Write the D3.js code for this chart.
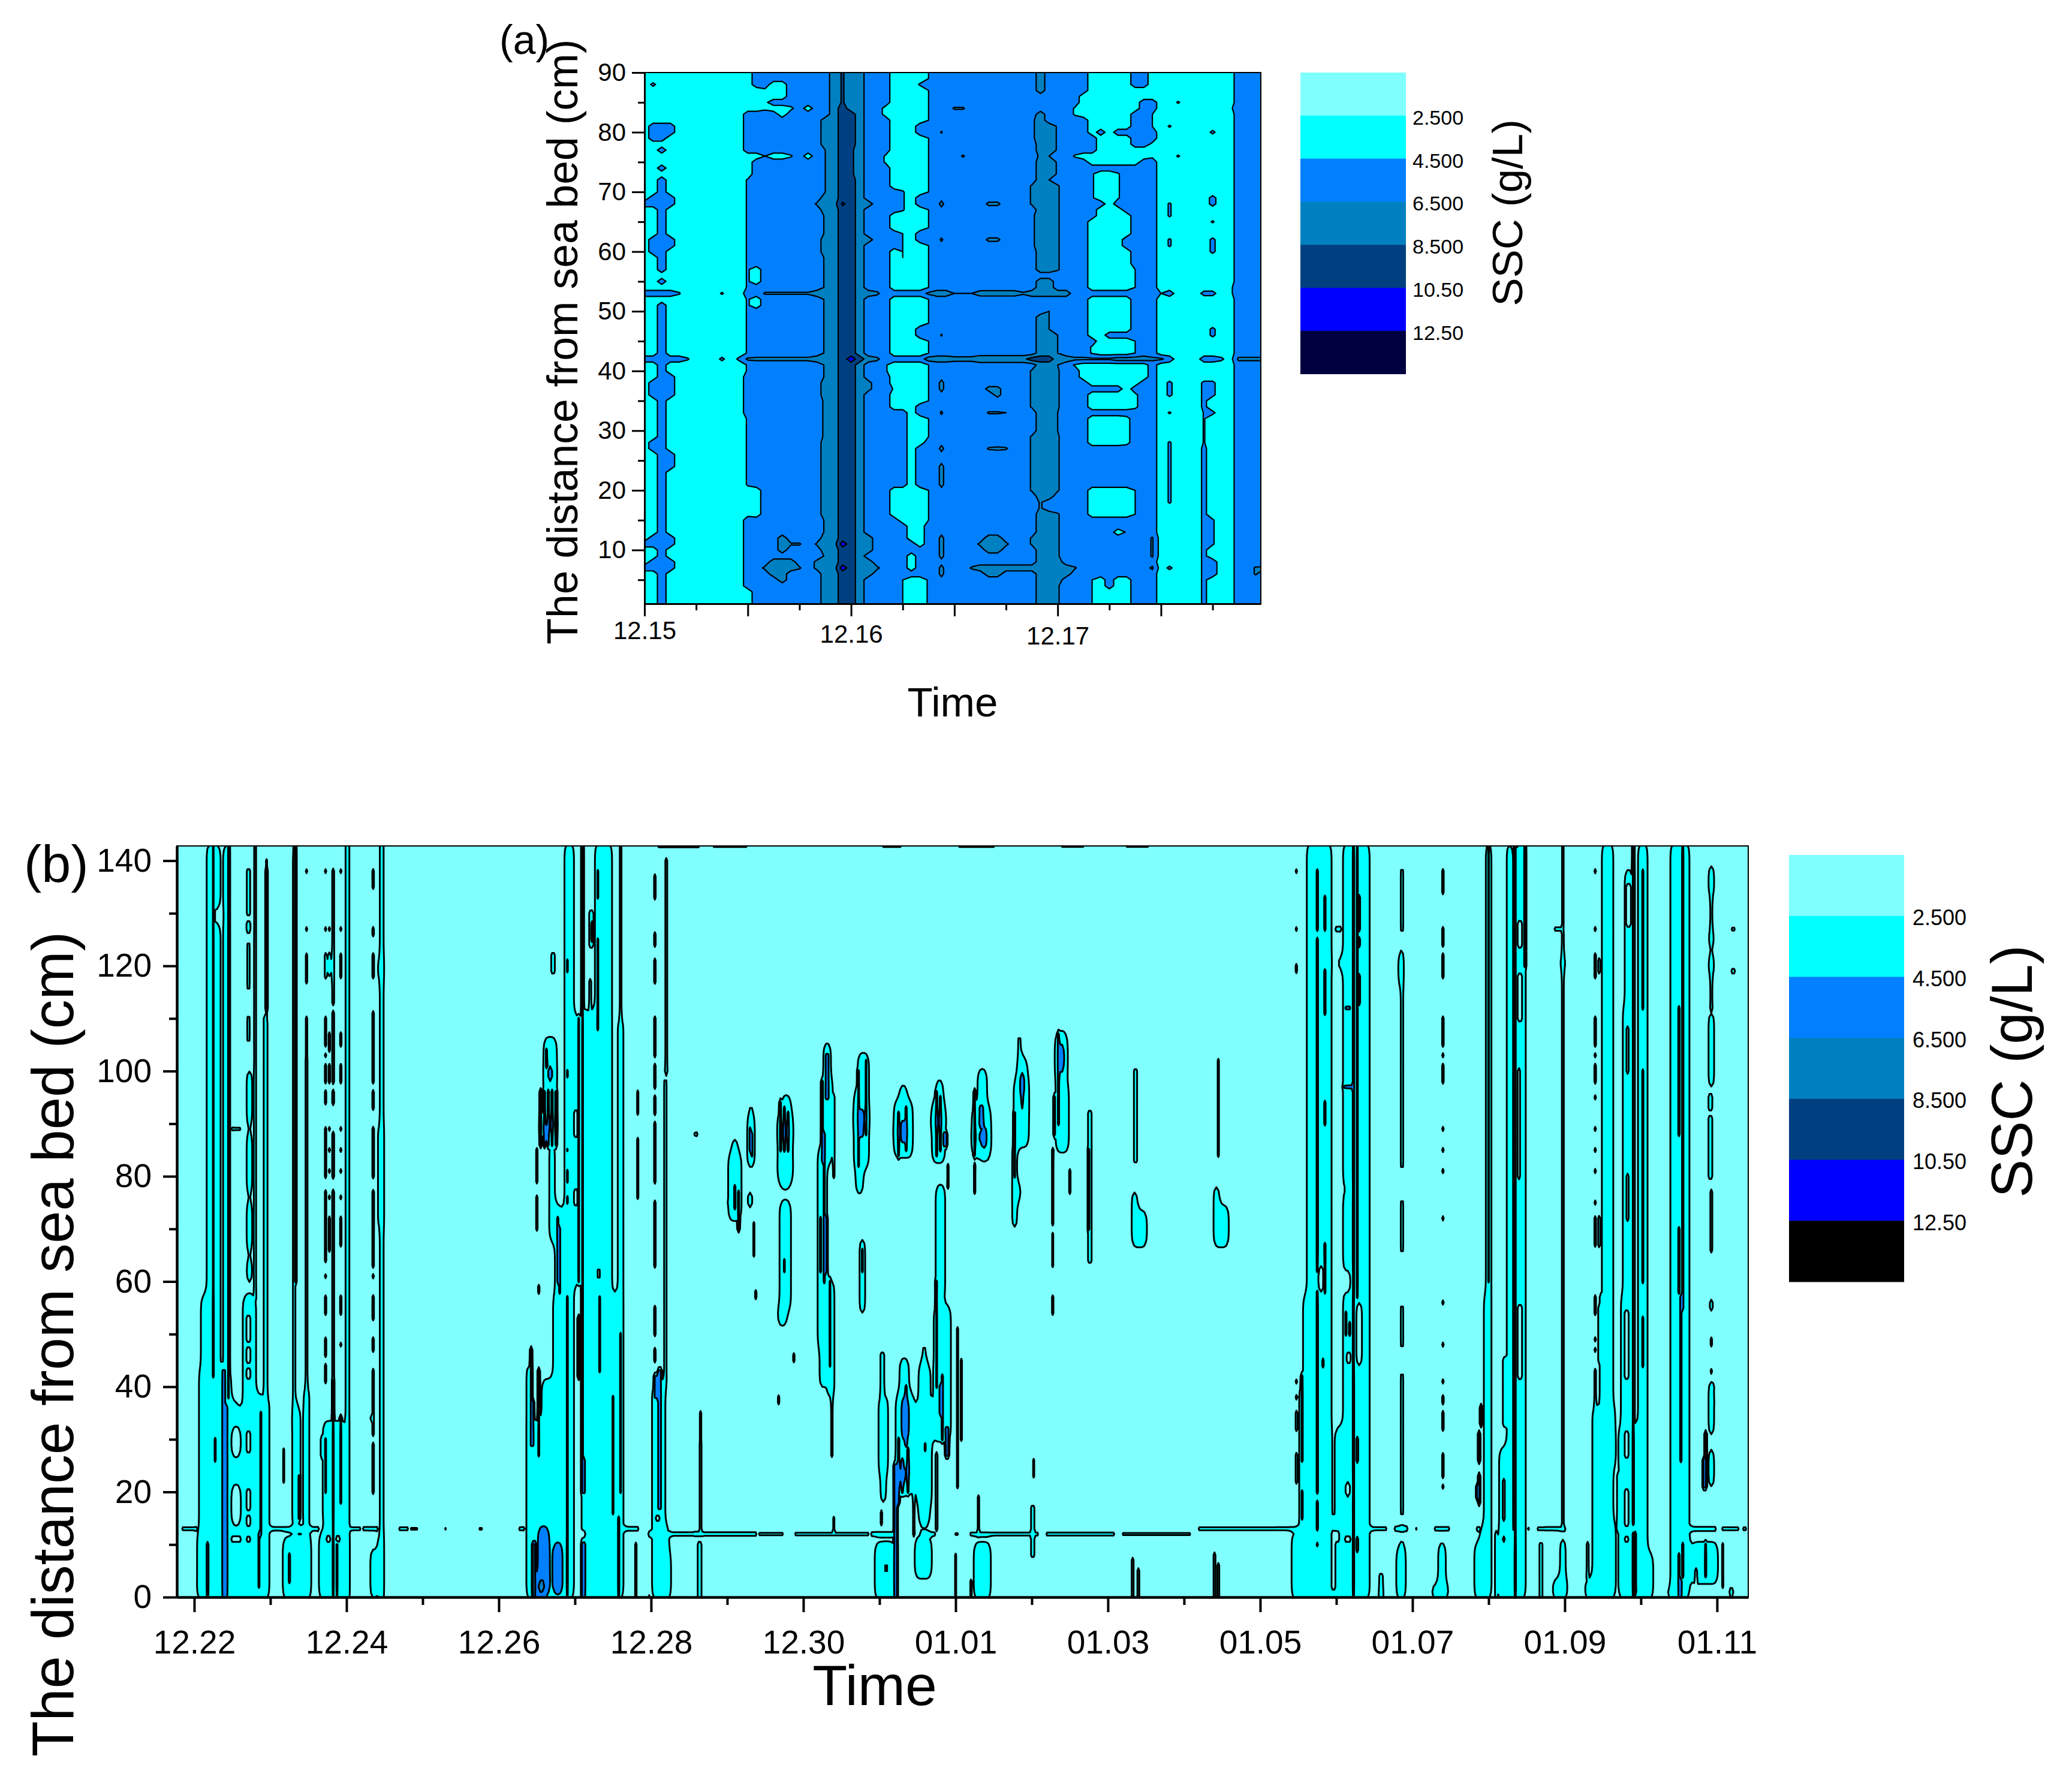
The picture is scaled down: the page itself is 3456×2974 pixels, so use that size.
<!DOCTYPE html>
<html lang="en">
<head>
<meta charset="UTF-8">
<title>SSC contours</title>
<script src="https://d3js.org/d3.v7.min.js"></script>
<style>
    body { margin: 0; background: #fff; }
    text { font-family: "Liberation Sans", Arial, sans-serif; fill: #000; }
</style>
</head>
<body>
<svg id="chart" width="3456" height="2974"></svg>
<script>
// SSC bands: 0 is below 2.5 g/L, 1 is 2.5-4.5, 2 is 4.5-6.5 ... 6 is above 12.5
// fractions sit just over a band edge, they give the thin slivers of the original
var sscLabels = ["2.500", "4.500", "6.500", "8.500", "10.50", "12.50"];
var colorsA = ["#80FFFF", "#00FFFF", "#0080FF", "#0080C0", "#004080", "#0000FF", "#000040"];
var colorsB = ["#80FFFF", "#00FFFF", "#0080FF", "#0080C0", "#004080", "#0000FF", "#000000"];

// panel (a): [hour after 12.15 00:00, band, top depth, band, top depth, ..., band]
var aProfiles = [
    [0, 1,6,2,7,1,10,2,11,1,67,2,68,1],
    [1, 1,6,2,8,1,10,2,12,1,26,2,28,1,35,2,38,1,59,2,62,1,67,2,69,1,78,2,81,1,87,1.7,88,1],
    [2, 2,51,1,54,2,55,1,56,2,72,1,73,2,74,1,76,2,77,1,78,2,81,1],
    [3, 1,6,2,8,1,10,2,12,1,23,2,26,1,35,2,39,1,60,2,62,1,67,2,69,1,79,2,81,1],
    [4, 1],[5, 1],[6, 1],[7, 1],[8, 1],[9, 1],[10, 1],[11, 1],
    [12, 1,3,2,15,1.2,20,1.6,32,2,39,1.6,57,1.6,72,1,76,2,83,1],
    [13, 2,15,1,20,2,50,1,52,2,54,1,57,2,75,1,76,2,83,1,87,2],
    [14, 2,6,2.7,7,2,75,1.5,76,2,83,1.3,87,2],
    [15, 2,5,3,8,2,75,1,76,2,83,1,84,2,85,1,88,2],
    [16, 2,4,3,8,2,9,3,12,2,75,1,76,2,82,1,84,2,85,1,88,2],
    [17, 2,6,3,8,2,10,2.6,11,2,75,1.4,76,2,83,1.3,84,2],
    [18, 2,6,2.6,7,2,10,2.6,11,2],
    [19, 2,75,1,76,2,83,1,84,2],
    [20, 2,6,2.7,8,2,10,2.6,11,2,67,2.6,68,2],
    [21, 3,8,2.6,9,3,12,2.6,15,3,28,2.7,35,3,38,2.6,59,3,62,2.6,66,3,69,2.5,77,3,82,2],
    [22, 3],
    [23, 4,6,5,7,4,10,5,11,4,67,4.7,68,4,84,3.6],
    [24, 4,72,3.7,77,4,83,3],
    [25, 3],
    [26, 2,5,3,8,2,9,3,12,2,36,2.8,38,2,61,3,62,2,67,3,68,2],
    [27, 2,6,2.7,7,2],
    [28, 2,39,1.6,41,2,74,1.4,76,2,82,1.2,84,2],
    [29, 2,15,1,20,2,33,1,36,1.4,37,1,60,2,63,1,66,2,70,1],
    [30, 1.5,5,2,14,1,20,2,33,1,58,1.5,63,1,66,1.6,70,1],
    [31, 1,5,2,6,1,9,2,11,1],
    [32, 1,5,2,10,1,20,2,27,1,32,2,34,1,45,2,47,1,61,2,63,1,67,2,69,1,79,2,81,1,87,1.6,88,1],
    [33, 1.6,5,2,14,1.5,20,2,28,1.5],
    [34, 2],
    [34.5, 2,5,3,7,2,8,3,12,2,20,3,24,2,26,3,27,2,32,2.7,33,2,36,3,38,2,45,2.6,46,2,61,2.7,62,2,67,3,68,2,79,2.6,80,2],
    [35, 2],
    [36, 2,83,2.6,84,2],
    [37, 2,75,2.6,76,2,83,2.6,84,2],
    [38, 2,6,2.6,7,2],
    [39, 2,6,3,7,2,10,2.7,11,2],
    [40, 2,5,3,7,2,9,3,12,2,26,2.6,27,2,32,2.6,33,2,36,2.8,37,2,61,2.7,62,2,67,2.7,68,2,79,2.5,80,2],
    [41, 2,5,3,7,2,9,3,12,2,26,2.7,27,2,32,2.6,33,2,35,2.8,37,2,61,2.7,62,2,67,2.7,68,2],
    [42, 2,6,3,7,2,10,2.7,11,2,26,2.6,27,2,32,2.5,33,2],
    [43, 2,6,3,7,2],
    [44, 2,6,3,7,2],
    [45, 2,6,3,7,2,10,2.6,12,2,19,2.6,29,2,33,2.6,40,2,60,2.3,66,2,67,2.6,71,2,78,2.3,82,2],
    [46, 3,16,2.6,18,3,49,2,52,3,55,2,56,3,75,2.7,76,3,83,2,86,3],
    [47, 3,16,2,18,3,46,2.5,50,2,52,3,55,2,56,3,71,2.5,72,3,75,2.5,76,3,81,2],
    [48, 2.6,4,3,8,2.6,16,2,19,2.6,29,2.5,33,2.6,40,2.5,46,2,56,2.6,71,2,72,2.4,81,2],
    [49, 2,5,3,7,2],
    [50, 2,6,2.6,7,2,40,1.4,41,2,75,1.4,76,2,82,1.4,84,2],
    [51, 2,38,1,41,2,75,1,76,2,82,1,86,2],
    [52, 1.5,5,2,15,1,20,2,23,1.5,24,2,27,1,32,2,33,1,36,2,37,1,41,2,42,1.4,44,2,45,1,52,2,53,1,65,2,67,1.6,73,2,74,1,76,2,79,1],
    [53, 1,5,2,15,1,20,2,23,1.6,24,2,27,1,32,2,33,1,36,2,37,1,67,2,68,1,73,2,74,1,79,2,80,1],
    [54, 1,3,2,15,1,20,2,27,1,32,2,33,1,36,2,37,1,45,2,46,1,68,1,73,2,74,1],
    [55, 1,5,2,12,1,13,2,15,1,20,2,23,1.6,24,2,27,1,32,2,33,1,36,2,37,1,45,2,46,1,67,2,68,1.4,73,2,74,1,79,2,80,1],
    [56, 1,5,2,6,1.6,9,2,12,1.6,13,2,15,1,20,2,23,1.6,24,2,27,1.2,32,2,33,1,45,2,46,1,60,2,62,1,66,2,74,1,79,2,80,1],
    [57, 2,15,1.5,20,2,33,1.3,36,2,37,1,41,2,42,1.5,45,2,53,1.5,57,2,74,1,77,2,83,1,87,2],
    [58, 2,38,1,41,2,75,1,77,2,85,1,87,2],
    [59, 2,6,2.7,7,2,8,2.6,12,2,75,1.3,78,2,80,1.5,83,2,85,1],
    [60, 1],
    [61, 1,6,1.7,7,1,17,1.6,28,1,32,1.6,33,1,35,1.7,38,1,60,1.6,62,1,65,1.6,68,1,80,1.6,81,1],
    [62, 1,75,1.6,76,1,84,1.6,85,1],
    [63, 1],[64, 1],
    [65, 1.7,27,1.55,33,1.7,38,1],
    [66, 1,5,2,8,1,10,1.6,15,1,32,1.7,33,1,35,1.7,38,1,45,1.7,47,1,59,1.7,62,1,64,1.6,65,1,67,1.8,69,1,79,1.7,80,1],
    [67, 1],
    [68, 1,52,1.3,54,1,83,1.3,84,1],
    [69, 2],[70, 2],
    [71, 2,5,2.6,7,2],
    [72, 2,6,2.6,7,2,10,2.7,12,2]
];
// the two thin layers that run across panel (a): [band, until hour, band, until hour, ..., band]
var aLayer42 = [2,4,1.6,5,1,8,1.7,9,1,10,1.7,11,2.7,19,3,22,4,23,5,24,4,25,3,26,2.7,27,2,32,3,35,2.8,38,3.2,44,4,47,3,49,2.7,54,3,58,2.7,60,2,61,1,64,2,66,1.7,67,1,68,2.7];
var aLayer53 = [2,3,1.6,4,1,8,1.6,9,1,11,2,13,2.6,19,3,22,4,24,3,26,2.7,27,2,32,2.7,33,3,35,2.5,38,2.9,43,2.6,44,3,49,2,59,1.5,60,2,61,1,64,1.8,66,1,68,2];

var aMajorHours = [0,12,24,36,48,60];
var aMinorHours = [6,18,30,42,54,66];
var aDayLabels = {0: "12.15", 24: "12.16", 48: "12.17"};
var aLabelNudge = {0: 0, 24: 6, 48: 9};
var aDepthMajor = [10,20,30,40,50,60,70,80,90];
var aDepthMinor = [5,15,25,35,45,55,65,75,85];

// panel (b): patches [day from, day to, depth from, depth to, band], days after 12.22. later ones overwrite
var bGroup1 = [
    [-0.08,0.01,0,1,0.9],[-0.15,0.06,13,13,0.7],
    [0.165,0.25,57,143,1],[0.11,0.36,43,57,1],[0.08,0.36,13,43,1],[0.06,0.36,0,12,1],
    [0.28,0.35,43,143,1],[0.28,0.35,129,130,0],[0.25,0.28,42,143,1.7],
    [0.40,0.48,36,143,1],[0.44,0.46,38,143,1.7],
    [0.36,0.5,0,42,1],[0.5,0.64,0,35,1],[0.64,0.83,0,57,1],
    [0.42,0.46,0,36,2],[0.365,0.385,0,43,1.7],[0.395,0.415,0,43,1.7],[0.175,0.2,0,10,2],[0.265,0.285,26,30,1.7],
    [0.51,0.62,27,32,0],[0.51,0.62,14,21,0],[0.51,0.62,11,11,0],[0.51,0.60,36,37,0.8],[0.51,0.63,89,89,0.65],
    [0.71,0.76,49,53,0],[0.71,0.76,45,47,0],[0.71,0.76,42,43,0],[0.71,0.76,28,31,0],[0.71,0.76,17,20,0],[0.71,0.76,14,15,0],[0.71,0.76,11,11,0],
    [0.70,0.77,60,64,1],[0.70,0.77,66,75,1],[0.70,0.77,77,88,1],[0.70,0.77,90,100,1],[0.70,0.76,104,112,1],[0.70,0.76,114,126,1],[0.70,0.75,127,128,1],[0.71,0.75,130,138,0.8],
    [0.80,0.82,57,143,1],[0.82,0.99,0,38,1],[0.84,0.86,2,12,1.7],[0.87,0.89,12,35,1.7],
    [0.93,0.98,38,110,1],[0.945,0.965,110,140,0.7],
    [1.17,1.55,0,11,1],[1.01,1.66,13,13,0.75],[1.24,1.26,3,8,1.8],
    [1.29,1.36,13,143,1],[1.32,1.34,60,143,1.7],[1.29,1.41,14,36,1],[1.38,1.40,15,23,1.7],
    [1.18,1.2,22,28,0.7],[1.18,1.26,33,34,0.7],
    [1.47,1.51,40,91,1],[1.48,1.5,92,96,1],[1.48,1.5,97,103,1],[1.45,1.53,0,40,1],
    [1.74,1.82,118,122,1],
    [1.99,2.04,0,143,1],[1.66,2.06,0,12,1],[1.70,2.03,14,33,1],[1.68,1.72,27,30,1],
    [1.83,1.85,0,42,1.7],[1.93,1.95,18,34,1.7],[1.72,1.74,20,30,1.7],[1.87,1.89,0,10,1.7],
    [1.74,1.8,11,11,0],[1.87,1.93,11,11,0],
    [2.33,2.39,0,9,1],[2.44,2.49,0,143,1],[2.42,2.51,117,122,1],[2.42,2.51,0,12,1],[2.42,2.51,70,90,1],
    [2.33,2.38,34,34,0.9],[2.22,2.42,13,13,0.75],[2.04,2.2,13,13,0.7],
    [2.69,2.82,13,13,0.7],[2.86,2.95,13,13,0.6],[3.30,3.33,13,13,0.6],[3.76,3.8,13,13,0.6]
];
var bGroup2 = [
    [4.28,4.35,13,13,0.7],
    [4.38,4.45,0,44,1],[4.45,4.6,0,33,1],[4.58,4.72,0,41,1],[4.72,4.88,0,57,1],
    [4.42,4.44,29,47,1.7],[4.46,4.48,29,37,1.7],[4.52,4.54,27,43,1.7],
    [4.52,4.68,0,13,2],[4.44,4.5,0,10,2.6],[4.5,4.62,0,3,3],[4.72,4.85,0,10,2],
    [4.88,4.99,0,143,1],[4.91,4.93,0,57,1.7],[4.91,4.93,75,76,1.7],[4.91,4.93,99,100,1.7],[4.91,4.93,119,121,1.7],
    [5.0,5.07,60,110,1],[5.01,5.05,88,92,0],[5.01,5.05,75,77,0],
    [5.09,5.5,0,143,1],[5.12,5.27,112,143,0],[5.09,5.11,24,143,1.7],
    [5.04,5.06,42,53,1.7],[5.2,5.24,124,130,1],[5.215,5.235,125,128,2],[5.2,5.22,112,117,1],
    [5.11,5.14,0,10,2],[5.11,5.14,12,12,0],[5.11,5.14,20,26,1.7],
    [5.30,5.36,59,64,0],[5.3,5.32,133,138,1.7],[5.31,5.33,108,125,1.7],[5.33,5.35,43,57,1.7],
    [5.49,5.57,0,16,2],[5.49,5.52,16,38,1.7],[5.57,5.6,0,15,1.8],
    [5.5,5.65,0,57,1],[5.58,5.65,57,110,1],[5.6,5.63,110,143,0.9],[5.59,5.61,20,50,1.7],
    [5.65,5.85,13,13,0.8],[5.81,5.83,0,10,0.8],[5.83,5.85,76,87,0.75],[5.83,5.85,92,96,0.75],
    [4.71,4.76,119,122,0.9],
    [4.6,4.78,88,106,1],[4.65,4.72,98,101,2],[4.55,4.57,86,96,1.8],[4.6,4.62,86,96,1.8],[4.65,4.67,86,96,1.8],[4.7,4.72,86,96,1.8],[4.75,4.77,86,96,1.8],
    [4.55,4.78,89,90,1.8],[4.6,4.64,87,89,2],[4.62,4.66,101,104,1.8],
    [4.68,4.76,68,86,1],[4.75,4.85,57,74,1],[4.77,4.79,60,72,1.8],[4.81,4.83,58,70,1.8],
    [4.51,4.53,70,76,0.8],[4.51,4.53,79,85,0.8],[4.52,4.54,58,59,0.8],
    [6.02,6.24,0,13,1],[6.03,6.2,14,40,1],[6.1,6.14,17,43,1.7],[6.04,6.1,38,42,1.6],[6.17,6.23,40,100,1],[6.19,6.21,100,140,1],
    [6.02,6.27,0,8,1],[5.97,6.05,12,12,0.9],[6.08,6.12,15,15,0],
    [6.24,7.4,12,12,0.75],[7.43,7.76,12,12,0.65],[7.9,8.87,12,12,0.68],[8.9,9.2,12,12,0.8],
    [9.55,9.75,12,12,0.7],[10.0,10.05,12,12,0.6],[10.2,11.1,12,12,0.7],[11.2,12.1,12,12,0.7],[12.2,13.1,12,12,0.62],[13.2,14.6,13,13,0.7],
    [6.63,6.67,0,10,1],[6.64,6.66,13,29,1],[6.64,6.66,30,35,0.8],[6.58,6.71,12,12,0.9],
    [6.57,6.59,88,88,0.7],[6.6,6.63,88,88,0.8],
    [6.11,6.66,143,143,0.9],[6.83,7.27,143,143,0.85],[9.04,9.3,143,143,0.85],[10.06,10.53,143,143,0.85],[11.4,11.7,143,143,0.8],[12.25,12.55,143,143,0.8]
];
var bBlobs = [
    [7.03,7.2,72,84,1],[7.07,7.15,84,87,1],[7.1,7.12,74,78,1.8],[7.14,7.16,70,77,1.8],[7.03,7.07,75,75,0.9],
    [7.27,7.38,82,91,1],[7.3,7.36,91,94,1],[7.29,7.31,85,89,1.8],[7.33,7.35,84,88,1.8],[7.28,7.36,74,77,1],[7.35,7.37,65,71,0.7],[7.37,7.4,57,58,0.8],
    [7.67,7.88,81,92,1],[7.72,7.85,92,95,1],[7.71,7.73,85,94,1.8],[7.75,7.77,85,93,1.8],[7.79,7.81,85,92,1.8],[7.69,7.85,88,89,1.8],[7.7,7.84,79,81,1.8],
    [7.7,7.86,55,75,1],[7.68,7.8,52,55,1],[7.87,7.89,45,46,0.8],[7.67,7.69,37,38,0.8],[7.75,7.77,62,64,1.7],
    [8.24,8.4,83,98,1],[8.28,8.38,98,105,1],[8.3,8.34,95,103,1.8],[8.25,8.27,83,98,1.8],[8.2,8.33,48,85,1],[8.22,8.31,40,48,1],[8.23,8.25,62,72,1.8],[8.27,8.29,60,88,1.8],[8.31,8.33,62,72,1.8],
    [8.33,8.42,38,60,0.9],[8.36,8.38,44,60,1.7],[8.37,8.41,27,38,0.8],[8.4,8.42,80,95,0.8],
    [8.68,8.88,82,96,1],[8.72,8.88,96,103,1],[8.7,8.8,77,82,1],[8.72,8.74,82,100,1.7],[8.82,8.84,88,102,1.7],[8.7,8.85,90,92,1.8],[8.75,8.8,88,92,2],[8.76,8.83,54,68,1],[8.78,8.8,62,66,1.8],
    [9.2,9.45,84,94,1],[9.27,9.38,94,97,1],[9.24,9.26,84,92,1.8],[9.34,9.36,85,93,1.8],[9.3,9.35,87,90,2],[9.22,9.4,88,89,1.8],
    [9.7,9.88,83,94,1],[9.75,9.85,94,98,1],[9.74,9.76,84,96,1.8],[9.8,9.82,85,95,1.8],[9.71,9.88,90,91,1.8],[9.85,9.89,86,88,2],[9.9,9.93,78,82,0.75],
    [10.23,10.47,84,93,1],[10.3,10.42,93,100,1],[10.33,10.37,90,93,2],[10.26,10.28,84,96,1.7],[10.36,10.42,84,90,1.8],[10.26,10.44,87,88,1.8],[10.25,10.27,77,82,0.8],[10.42,10.45,84,86,1],
    [10.77,10.97,86,98,1],[10.82,10.94,98,102,1],[10.82,10.88,102,108,1],[10.76,10.82,70,86,0.9],[10.77,10.79,80,92,1.8],[10.86,10.92,92,100,2],[10.85,10.93,93,96,1.7],[10.8,10.88,76,78,1],
    [11.33,11.5,85,97,1],[11.33,11.47,97,107,1],[11.36,11.44,100,105,2],[11.34,11.36,95,107,1.8],[11.31,11.33,88,95,1.8],[11.35,11.37,90,94,1.8],
    [11.49,11.51,77,81,0.8],[11.27,11.3,71,85,0.8],[11.27,11.3,63,69,0.7],[11.27,11.3,54,57,0.8],
    [11.75,11.8,64,92,0.9],[11.76,11.78,70,85,1.7],
    [12.35,12.39,83,100,0.75],[12.32,12.4,67,77,1],[12.4,12.52,67,73,1],[12.33,12.36,0,7,1],[12.39,12.42,0,5,1],
    [13.44,13.48,84,102,0.75],[13.4,13.48,67,78,1],[13.48,13.6,67,74,1],[13.4,13.43,0,8,1],[13.45,13.48,0,6,1],
    [9.02,9.11,18,34,1],[8.99,9.12,24,38,1],[9.03,9.08,38,46,1],[9.03,9.05,14,16,0.8],
    [9.22,9.47,20,38,1],[9.27,9.41,38,45,1],[9.3,9.4,30,38,2],[9.28,9.36,21,25,2],[9.34,9.36,29,40,1.8],[9.25,9.27,18,30,1.8],[9.38,9.4,20,28,1.8],[9.31,9.33,20,26,1.8],[9.22,9.44,24,25,1.7],
    [9.2,9.24,0,20,1.8],[9.45,9.47,12,20,0.8],
    [9.53,9.68,14,44,1],[9.5,9.7,18,36,1],[9.57,9.63,44,49,1],[9.6,9.62,28,29,1.7],[9.48,9.7,4,11,1],
    [9.73,9.95,30,55,1],[9.76,9.87,57,78,1],[9.8,9.86,35,40,2],[9.82,9.84,30,42,1.8],[9.74,9.76,13,27,1],[9.76,9.78,40,60,1.7],[9.88,9.92,27,32,1.8],
    [10.02,10.04,21,51,0.75],[10.07,10.09,30,45,0.75],
    [8.95,9.22,0,10,1],[9.2,9.25,0,25,1.8],[9.05,9.15,3,8,1.6],
    [10.26,10.47,0,10,1],[10.3,10.33,12,19,0.8],[10.01,10.03,0,8,0.7],[10.19,10.21,0,3,0.7],[10.32,10.34,0,5,0.9],
    [11.02,11.04,23,26,0.7],[11.0,11.04,8,17,0.8],[8.4,8.42,13,15,0.7]
];
var bGroup3 = [
    [14.62,14.95,40,143,1],[14.57,14.95,20,57,1],[14.52,14.95,13,40,1],[14.43,15.0,0,9,1],[14.43,14.53,10,12,1],[14.55,15.0,10,13,1],
    [15.09,15.44,0,143,1],[15.0,15.09,0,32,1],[14.96,15.0,2,12,0],[14.98,15.04,11,12,0],[15.0,15.07,127,127,0.9],[15.0,15.09,120,121,1],
    [14.75,14.77,62,125,1.8],[14.75,14.77,127,138,1.8],[14.75,14.77,20,58,1.8],[14.75,14.77,13,18,1.8],[14.75,14.77,10,10,1.8],
    [14.84,14.86,127,133,1.8],[14.84,14.86,111,119,1.8],[14.84,14.86,90,94,1.8],[14.84,14.86,58,67,1.8],[14.77,14.84,58,63,0],[14.83,14.86,44,45,1.8],
    [15.22,15.25,0,143,1.8],[15.12,15.21,112,112,1.7],[15.1,15.22,97,97,1.7],[15.13,15.2,77,78,0],[15.13,15.2,58,62,0],[15.15,15.2,45,46,0],[15.13,15.2,19,22,0],[15.13,15.2,14,15,0],[15.13,15.2,11,11,0],
    [15.12,15.15,50,54,1.8],[15.17,15.21,50,52,1.8],[15.28,15.32,127,133,0],[15.28,15.32,113,118,0],[15.28,15.33,124,125,0],[15.28,15.34,44,56,0],[15.28,15.31,26,30,0],[15.28,15.31,9,11,0],
    [15.27,15.29,57,143,1.7],
    [15.84,15.9,125,140,1],[15.84,15.9,112,123,1],[15.84,15.9,97,111,1],[15.84,15.9,80,96,1],[15.84,15.9,64,77,1],[15.84,15.9,46,57,1],[15.84,15.9,14,44,1],
    [15.83,15.91,117,122,1],[15.8,15.93,0,9,1],[15.84,15.9,10,11,1],
    [14.22,14.56,13,13,0.72],[15.44,15.68,13,13,0.72],[15.77,15.95,13,13,0.85],[16.05,16.08,13,13,0.6],[16.3,16.5,13,13,0.75],
    [16.36,16.45,0,10,1],[16.25,16.5,0,2,0.9],[15.58,15.62,0,4,0.9],[15.5,15.72,0,1,0.7],
    [16.97,17.05,40,143,1],[16.96,17.06,0,57,1],[16.83,17.06,0,10,1],[16.9,16.97,10,13,1],[17.05,17.13,0,12,0],
    [16.86,16.9,13,13,0.7],[16.99,17.01,60,143,1.7],
    [16.87,16.9,26,31,1.8],[16.87,16.9,18,23,1.8],[16.89,16.92,33,36,1.8],[16.86,16.9,19,21,1.8]
];
var bGroup4 = [
    [17.25,17.33,0,143,1],[17.37,17.5,0,143,1],[17.13,17.5,0,10,1],[17.15,17.25,13,28,1],[17.19,17.25,33,45,1],[17.13,17.25,11,12,0.85],
    [17.06,17.13,3,12,0],[17.1,17.13,0,12,1],
    [17.34,17.37,0,143,1.8],[17.47,17.49,120,143,1.8],
    [17.4,17.44,110,118,0],[17.4,17.44,42,55,0],[17.4,17.44,124,128,0],[17.41,17.43,80,100,0],[17.2,17.23,15,22,0],[17.2,17.23,11,11,0],
    [17.67,17.72,0,10,0.7],[17.95,18.03,0,11,1],[17.85,18.05,0,3,1],
    [17.97,18.01,14,143,1],[17.94,18.02,119,122,1],[17.88,18.0,127,127,0.75],[17.98,18.0,128,143,0.85],
    [17.52,17.56,13,13,0.6],[17.65,17.75,13,13,0.7],[17.76,18.03,13,13,0.75],
    [18.47,18.5,25,57,1.2],[18.5,18.65,36,143,1],[18.37,18.68,0,36,1],[18.27,18.37,0,3,1],[18.29,18.31,4,10,1],
    [18.7,18.72,13,23,0.8],[18.65,18.72,15,24,0],
    [18.77,18.9,57,112,1],[18.8,18.9,112,138,1],[18.72,19.1,0,32,1],[18.75,18.89,32,57,1],
    [18.81,18.85,47,54,0],[18.81,18.85,42,46,0],[18.81,18.85,27,31,0],[18.81,18.85,14,20,0],[18.81,18.85,11,11,0],[18.82,18.88,128,135,0],[18.82,18.86,100,108,0],[18.82,18.86,72,80,0],
    [18.89,18.91,0,143,1.8],
    [18.97,19.11,32,143,1],[18.72,19.17,0,8,1],[18.92,18.96,1,12,0],[18.86,18.93,13,13,0.9],[19.03,19.05,112,138,1.8],[19.03,19.05,60,100,1.8],[19.03,19.05,44,53,1.8],
    [19.41,19.65,0,143,1],[19.26,19.4,0,1,0.8],[19.52,19.55,26,57,1.8],[19.56,19.58,55,143,1.8],[19.5,19.53,58,70,1.8],[19.5,19.53,88,112,1.8],[19.53,19.56,0,3,2],[19.54,19.56,4,10,1.8],[19.5,19.52,0,8,1.8],
    [19.67,20.03,3,10,1],[19.72,19.76,3,5,0],[19.85,19.87,4,10,1.8],[19.65,20.0,13,13,0.8],[20.08,20.3,13,13,0.7],[20.36,20.41,13,13,0.7],
    [20.07,20.09,2,10,0.7],[20.15,20.25,0,2,0.9],[20.3,20.4,0,1,0.8],
    [19.89,19.98,133,139,1],[19.92,19.94,127,133,1],[19.89,19.98,124,127,1],[19.89,19.98,118,122,1],[19.92,19.95,112,118,1],[19.9,19.97,102,111,1],[19.9,19.97,97,101,1],[19.91,19.95,93,95,1],[19.91,19.96,87,91,1],[19.91,19.96,80,86,1],[19.92,19.95,74,77,1],[19.92,19.96,66,73,1],
    [19.9,19.98,54,57,0.9],[19.92,19.95,48,49,0.8],[19.92,19.95,43,43,0.8],[19.9,19.98,31,41,1],[19.9,19.98,21,28,1],
    [19.84,19.88,27,31,1.8],[19.83,19.87,21,26,1.8],[20.2,20.24,119,119,0.9],[20.2,20.26,127,127,0.7]
];
// broken thin stripes: [day from, day to, band, depth from, depth to, depth from, depth to, ...]
var bDashes = [
    [0.955,0.975,1.7, 112,138],
    [1.48,1.5,0.8, 138,138, 127,127, 117,122, 103,110],
    [1.72,1.74,0.8, 138,138, 127,127, 118,122, 105,110, 103,103, 98,101, 94,96, 80,89, 64,77, 61,61, 54,57, 46,49, 41,44],
    [1.82,1.85,1, 113,138, 98,111, 94,96, 80,88, 62,77, 42,62],
    [1.78,1.8,0.8, 127,127, 119,122, 104,107, 98,101, 89,89, 85,85, 81,81, 76,76, 66,72],
    [1.93,1.96,0.8, 138,138, 127,127, 118,122, 105,107, 98,101, 89,89, 85,85, 81,81, 76,76, 67,72, 54,57, 48,48],
    [2.345,2.37,0.85, 135,138, 126,127, 118,122, 98,111, 93,96, 80,89, 63,77, 61,61, 53,57, 47,49, 31,43, 20,29],
    [4.91,4.93,1.7, 85,85, 79,81],
    [5.97,6.0,0.75, 0,0],
    [5.06,5.08,1.7, 60,110],
    [6.05,6.08,0.85, 133,137, 124,126, 117,121, 103,110, 97,101, 92,95, 85,90, 79,84, 63,75, 50,55, 45,47],
    [6.11,6.13,1.7, 17,43],
    [14.47,14.49,0.8, 138,138, 127,127, 119,120, 41,41, 38,38, 32,35, 22,27],
    [14.55,14.57,1.8, 26,42, 15,20],
    [16.39,16.42,0.85, 134,138, 124,127, 118,122, 105,110, 103,103, 98,101, 89,89, 85,85, 81,81, 72,72, 56,56, 48,48, 41,41, 37,38, 32,35, 23,27, 21,21],
    [18.4,18.42,0.85, 138,138, 127,127, 118,122, 105,110, 103,103, 98,101, 95,95, 89,89, 85,85, 81,81, 75,75, 67,72, 54,57, 49,49, 47,47, 28,43, 20,24, 15,18],
    [18.44,18.46,0.85, 119,121, 67,72, 45,55],
    [19.95,19.97,0.7, 40,40, 37,37]
];

var bDayTicks = [0,2,4,6,8,10,12,14,16,18,20];
var bDayMinor = [1,3,5,7,9,11,13,15,17,19];
var bDayLabels = ["12.22","12.24","12.26","12.28","12.30","01.01","01.03","01.05","01.07","01.09","01.11"];
var bDepthMajor = [0,20,40,60,80,100,120,140];
var bDepthMinor = [10,30,50,70,90,110,130];

var svg = d3.select("#chart");
var bandEdges = [0.5,1.5,2.5,3.5,4.5,5.5];

function runAt(runs, v) {
    for (var k = 0; k < runs.length - 1; k += 2) {
        if (v <= runs[k + 1]) return runs[k];
    }
    return runs[runs.length - 1];
}

// fills first, then every line on top, like the original contour plot
function drawContours(g, id, values, nx, ny, xOfIndex, yOfIndex, colors, lineWidth) {
    var gen = d3.contours().size([nx, ny]).thresholds(bandEdges);
    var shapes = gen(values);
    var path = d3.geoPath(d3.geoTransform({
        point: function (px, py) {
            this.stream.point(xOfIndex(px - 0.5), yOfIndex(py - 0.5));
        }
    }));
    var inner = g.append("g").attr("clip-path", "url(#" + id + ")");
    inner.selectAll("path.fill").data(shapes).enter().append("path")
        .attr("class", "fill")
        .attr("d", path)
        .attr("fill", function (d, i) { return colors[i + 1]; });
    inner.selectAll("path.line").data(shapes).enter().append("path")
        .attr("class", "line")
        .attr("d", path)
        .attr("fill", "none")
        .attr("stroke", "#000")
        .attr("stroke-width", lineWidth)
        .attr("stroke-linejoin", "round");
}

function plotFrame(id, x, y, color) {
    svg.append("clipPath").attr("id", id).append("rect")
        .attr("x", x.range()[0]).attr("y", y.range()[1])
        .attr("width", x.range()[1] - x.range()[0])
        .attr("height", y.range()[0] - y.range()[1]);
    svg.append("rect")
        .attr("x", x.range()[0]).attr("y", y.range()[1])
        .attr("width", x.range()[1] - x.range()[0])
        .attr("height", y.range()[0] - y.range()[1])
        .attr("fill", color);
}

function styleAxis(sel, fontSize, width) {
    sel.attr("font-size", fontSize).attr("font-family", "Liberation Sans");
    sel.selectAll("line").attr("stroke", "#000").attr("stroke-width", width);
    sel.selectAll("path").attr("stroke", "#000").attr("stroke-width", width);
}

function legend(colors, labels, x0, x1, top, step, labelX, fontSize) {
    var g = svg.append("g");
    g.selectAll("rect").data(colors).enter().append("rect")
        .attr("x", x0).attr("width", x1 - x0)
        .attr("y", function (d, i) { return top + i * step; })
        .attr("height", step + 0.5)
        .attr("fill", function (d) { return d; });
    g.selectAll("text").data(labels).enter().append("text")
        .attr("x", labelX)
        .attr("y", function (d, i) { return top + (i + 1) * step + 0.35 * fontSize + 3; })
        .attr("font-size", fontSize)
        .text(function (d) { return d; });
}

function label(txt, x, y, size, rotate, anchor) {
    svg.append("text")
        .attr("transform", "translate(" + x + "," + y + ")" + (rotate ? " rotate(-90)" : ""))
        .attr("text-anchor", anchor || "middle")
        .attr("font-size", size)
        .text(txt);
}

// ---- panel (a)
var ax = d3.scaleLinear().domain([0, 71.6]).range([1075, 2103]);
var ay = d3.scaleLinear().domain([1, 90]).range([1007, 121]);
var aHours = aProfiles.map(function (p) { return p[0]; });
var aDepths = d3.range(1, 91);
var aValues = [];
aDepths.forEach(function (depth) {
    aProfiles.forEach(function (p) {
        var band = runAt(p.slice(1), depth);
        if (depth === 42) band = Math.max(band, runAt(aLayer42, p[0]));
        if (depth === 53) band = Math.max(band, runAt(aLayer53, p[0]));
        aValues.push(band);
    });
});
plotFrame("clipA", ax, ay, colorsA[0]);
var aHourOfIndex = d3.scaleLinear().domain(d3.range(aHours.length)).range(aHours);
var aDepthOfIndex = d3.scaleLinear().domain([0, aDepths.length - 1]).range([1, 90]);
drawContours(svg.append("g"), "clipA", aValues, aHours.length, aDepths.length,
    function (i) { return ax(aHourOfIndex(i)); },
    function (j) { return ay(aDepthOfIndex(j)); }, colorsA, 2.2);

var aBottom = svg.append("g").attr("transform", "translate(0,1007)")
    .call(d3.axisBottom(ax).tickValues(aMajorHours).tickSize(21).tickSizeOuter(0).tickPadding(8)
        .tickFormat(function (h) { return aDayLabels[h] || ""; }));
styleAxis(aBottom, 42, 3);
aBottom.selectAll("text").attr("dy", function (h) { return (0.71 * 42 + (aLabelNudge[h] || 0)) + "px"; });
styleAxis(svg.append("g").attr("transform", "translate(0,1007)")
    .call(d3.axisBottom(ax).tickValues(aMinorHours).tickSize(11).tickSizeOuter(0).tickFormat("")), 42, 3);
styleAxis(svg.append("g").attr("transform", "translate(1075,0)")
    .call(d3.axisLeft(ay).tickValues(aDepthMajor).tickSize(21).tickSizeOuter(0).tickPadding(10)), 42, 3);
styleAxis(svg.append("g").attr("transform", "translate(1075,0)")
    .call(d3.axisLeft(ay).tickValues(aDepthMinor).tickSize(11).tickSizeOuter(0).tickFormat("")), 42, 3);
svg.append("rect").attr("x", 1075).attr("y", 121).attr("width", 1028).attr("height", 886)
    .attr("fill", "none").attr("stroke", "#000").attr("stroke-width", 2);

legend(colorsA, sscLabels, 2169, 2345, 121, 71.8, 2356, 34);
label("(a)", 833, 90, 68, false, "start");
label("The distance from sea bed (cm)", 963, 570, 71.5, true);
label("Time", 1589, 1195, 69);
label("SSC (g/L)", 2539, 355, 71, true);

// ---- panel (b)
var bx = d3.scaleLinear().domain([-0.228, 20.41]).range([295, 2916]);
var by = d3.scaleLinear().domain([0, 142.8]).range([2664, 1411]);
var bStep = 0.025, bStart = -0.4;
var bTimes = d3.range(bStart, 20.65, bStep);
var bDepths = d3.range(-1, 146);
var bValues = new Array(bTimes.length * bDepths.length).fill(0);

function paint(t0, t1, z0, z1, band) {
    var i0 = Math.round((t0 - bStart) / bStep);
    var i1 = Math.max(i0 + 1, Math.round((t1 - bStart) / bStep));
    for (var z = z0; z <= z1; z++) {
        for (var i = i0; i < i1; i++) {
            bValues[i + (z + 1) * bTimes.length] = band;
        }
    }
}
// wide patches go down first and get their corners rounded, thin lines stay sharp on top
var bPatches = [].concat(bGroup1, bGroup2, bBlobs, bGroup3, bGroup4);
function isWide(p) { return p[1] - p[0] >= 0.06 && p[3] - p[2] >= 1; }
bPatches.filter(isWide).forEach(function (p) { paint(p[0], p[1], p[2], p[3], p[4]); });
d3.blur2({data: bValues, width: bTimes.length, height: bDepths.length}, 0.6, 0.7);
bPatches.filter(function (p) { return !isWide(p); }).forEach(function (p) {
    paint(p[0], p[1], p[2], p[3], p[4]);
});
bDashes.forEach(function (d) {
    for (var k = 3; k < d.length; k += 2) paint(d[0], d[1], d[k], d[k + 1], d[2]);
});

plotFrame("clipB", bx, by, colorsB[0]);
drawContours(svg.append("g"), "clipB", bValues, bTimes.length, bDepths.length,
    function (i) { return bx(bStart + i * bStep); },
    function (j) { return by(j - 1); }, colorsB, 3);

styleAxis(svg.append("g").attr("transform", "translate(0,2664)")
    .call(d3.axisBottom(bx).tickValues(bDayTicks).tickSize(25).tickSizeOuter(0).tickPadding(30)
        .tickFormat(function (d, i) { return bDayLabels[i]; })), 55, 4);
styleAxis(svg.append("g").attr("transform", "translate(0,2664)")
    .call(d3.axisBottom(bx).tickValues(bDayMinor).tickSize(13).tickSizeOuter(0).tickFormat("")), 55, 4);
styleAxis(svg.append("g").attr("transform", "translate(295,0)")
    .call(d3.axisLeft(by).tickValues(bDepthMajor).tickSize(23).tickSizeOuter(0).tickPadding(19)), 55, 4);
styleAxis(svg.append("g").attr("transform", "translate(295,0)")
    .call(d3.axisLeft(by).tickValues(bDepthMinor).tickSize(13).tickSizeOuter(0).tickFormat("")), 55, 4);
svg.append("rect").attr("x", 295).attr("y", 1411).attr("width", 2621).attr("height", 1253)
    .attr("fill", "none").attr("stroke", "#000").attr("stroke-width", 2);

legend(colorsB, sscLabels, 2984, 3176, 1426, 101.7, 3190, 36);
label("(b)", 40, 1471, 88, false, "start");
label("The distance from sea bed (cm)", 122, 2242, 97.5, true);
label("Time", 1459, 2844, 95);
label("SSC (g/L)", 3389, 1787, 96, true);
</script>
</body>
</html>
